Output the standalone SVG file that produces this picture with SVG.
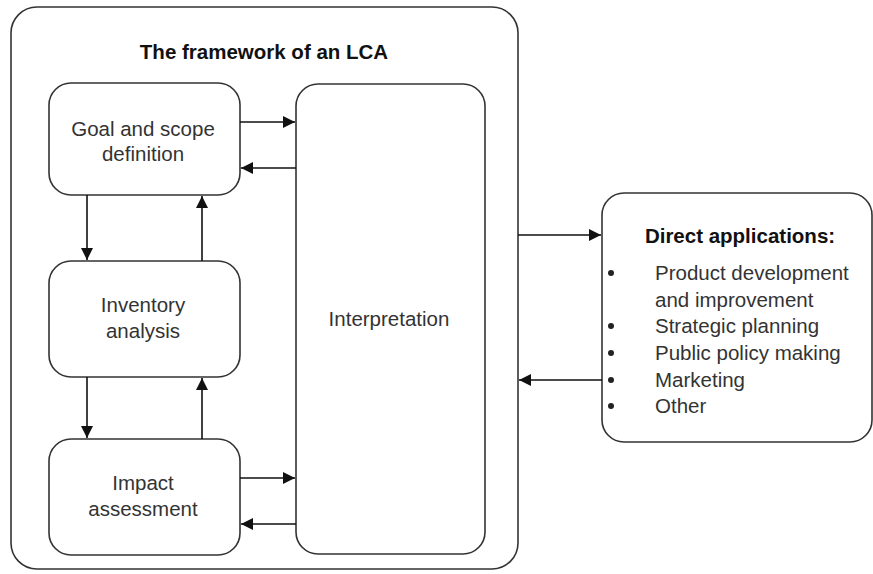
<svg xmlns="http://www.w3.org/2000/svg" width="873" height="574" viewBox="0 0 873 574">
<defs>
<marker id="ah" viewBox="0 0 10 10" refX="10" refY="5" markerWidth="13" markerHeight="12" markerUnits="userSpaceOnUse" orient="auto">
<path d="M0,0 L10,5 L0,10 z" fill="#111"/>
</marker>
<style>
.box{fill:#fff;stroke:#333;stroke-width:1.6}
.t{font-family:"Liberation Sans",Arial,sans-serif;font-size:20.5px;fill:#333;text-anchor:middle}
.tl{font-family:"Liberation Sans",Arial,sans-serif;font-size:20.5px;fill:#333}
.b{font-family:"Liberation Sans",Arial,sans-serif;font-size:20.5px;font-weight:bold;fill:#111}
.c{fill:none;stroke:#111;stroke-width:1.6;marker-end:url(#ah)}
.dot{fill:#222}
</style>
</defs>
<rect width="873" height="574" fill="#fff"/>
<g id="frame">
<rect class="box" x="11" y="7" width="507" height="562" rx="26"/>
<text class="b" x="264" y="59" text-anchor="middle">The framework of an LCA</text>
</g>
<g id="goal">
<rect class="box" x="49" y="83" width="191" height="112" rx="22"/>
<text class="t" x="143" y="136">Goal and scope</text>
<text class="t" x="143" y="161">definition</text>
</g>
<g id="inventory">
<rect class="box" x="49" y="261" width="191" height="116" rx="22"/>
<text class="t" x="143" y="312">Inventory</text>
<text class="t" x="143" y="338">analysis</text>
</g>
<g id="impact">
<rect class="box" x="49" y="439" width="191" height="116" rx="22"/>
<text class="t" x="143" y="490">Impact</text>
<text class="t" x="143" y="516">assessment</text>
</g>
<g id="interpretation">
<rect class="box" x="296" y="84" width="189" height="470" rx="22"/>
<text class="t" x="389" y="326">Interpretation</text>
</g>
<g id="applications">
<rect class="box" x="602" y="193" width="270" height="249" rx="22"/>
<text class="b" x="740" y="243" text-anchor="middle">Direct applications:</text>
<circle class="dot" cx="611" cy="273" r="3"/>
<circle class="dot" cx="611" cy="326" r="3"/>
<circle class="dot" cx="611" cy="353" r="3"/>
<circle class="dot" cx="611" cy="380" r="3"/>
<circle class="dot" cx="611" cy="406" r="3"/>
<text class="tl" x="655" y="280">Product development</text>
<text class="tl" x="655" y="307">and improvement</text>
<text class="tl" x="655" y="333">Strategic planning</text>
<text class="tl" x="655" y="360">Public policy making</text>
<text class="tl" x="655" y="387">Marketing</text>
<text class="tl" x="655" y="413">Other</text>
</g>
<g id="connectors">
<line class="c" x1="240" y1="122" x2="295" y2="122"/>
<line class="c" x1="296" y1="168" x2="241" y2="168"/>
<line class="c" x1="87" y1="195" x2="87" y2="260"/>
<line class="c" x1="202" y1="261" x2="202" y2="196"/>
<line class="c" x1="87" y1="377" x2="87" y2="438"/>
<line class="c" x1="202" y1="439" x2="202" y2="378"/>
<line class="c" x1="240" y1="478" x2="295" y2="478"/>
<line class="c" x1="296" y1="524" x2="241" y2="524"/>
<line class="c" x1="518" y1="235" x2="601" y2="235"/>
<line class="c" x1="602" y1="380" x2="519" y2="380"/>
</g>
</svg>
